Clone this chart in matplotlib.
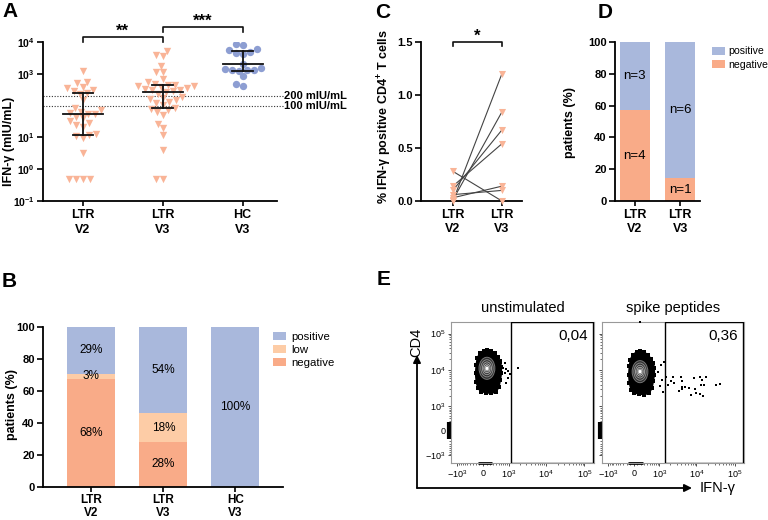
import numpy as np
import matplotlib.pyplot as plt
from matplotlib.patches import Ellipse, Rectangle, Polygon, FancyArrowPatch

plt.rcParams['font.family'] = ['Liberation Sans', 'DejaVu Sans']
plt.rcParams['mathtext.fontset'] = 'custom'
plt.rcParams['mathtext.rm'] = 'Liberation Sans'
plt.rcParams['mathtext.it'] = 'Liberation Sans:italic'
plt.rcParams['mathtext.bf'] = 'Liberation Sans:bold'

# colours
POS = '#a9b8dc'
LOW = '#fdcca6'
NEG = '#f9ab88'
TRI = '#f9b497'
HCC = '#8d9ed2'

# ---------------- data ----------------
# A: IFN-gamma release (mIU/mL)
groups = ['LTR\nV2', 'LTR\nV3', 'HC\nV3']
ifn_ltr_v2 = [1260, 560, 500, 380, 350, 320, 290, 250, 230, 150,
              85, 75, 65, 60, 56, 55, 45, 40, 32, 28, 25, 22,
              13, 12, 11, 9.5, 3.2, 0.5, 0.5, 0.5, 0.5]
ifn_ltr_v3 = [5400, 3900, 3600, 1780, 1170, 1120, 680, 560, 480, 460, 440,
              420, 400, 380, 360, 340, 320, 305, 290, 275, 240,
              190, 175, 160, 145, 130, 120, 105,
              85, 80, 72, 65, 50, 27, 19.5, 12, 4, 0.5, 0.5]
ifn_hc_v3 = [8500, 8100, 6000, 5500, 5000, 4600, 4300, 2000, 1500, 1400,
             1350, 1320, 1300, 1250, 850, 470, 400]
a_median = [56, 275, 2000]
a_q1 = [12, 82, 1230]
a_q3 = [255, 440, 5200]
cutoffs = [200, 100]

# B: responders (% of patients)
b_negative = [67.7, 28.2, 0]
b_low = [3.2, 17.9, 0]
b_positive = [29.0, 53.8, 100]

# C: % IFN-gamma positive CD4+ T cells, paired
c_groups = ['LTR\nV2', 'LTR\nV3']
c_v2 = [0.00, 0.01, 0.10, 0.14, 0.28, 0.03, 0.06]
c_v3 = [1.20, 0.84, 0.67, 0.54, 0.00, 0.14, 0.10]

# D: number of patients
d_negative_n = [4, 1]
d_positive_n = [3, 6]

# E: flow cytometry events (IFN-gamma, CD4)
unstim_ifn = [600, 765, 680, 860, 950, 765, 1070, 950, 860, 1840]
unstim_cd4 = [19000, 15400, 11800, 10800, 9400, 8200, 7900, 6040, 4600, 11800]
spike_ifn = [1600, 2410, 2110, 2570, 1810, 3870, 4110, 4930, 4240, 6380, 8630,
             12150, 14150, 17950, 12900, 15750, 7080, 9570, 12150, 14850, 9170,
             4110, 3470, 31800, 40400, 1300, 1050, 1240, 900, 1120, 1380, 765, 630, 175]
spike_cd4 = [6430, 6700, 5110, 4420, 3980, 6430, 5220, 3580, 3580, 3240, 6040,
             6430, 5450, 6430, 3980, 3980, 2110, 2460, 2250, 2030, 3090,
             3020, 2780, 3980, 4160, 2610, 3740, 5450, 9180, 13900, 17100, 12000, 7020, 200000]
# outline of the dense CD4+ population (asinh channel units, unstimulated sample)
blob_x = [0.24, 0.50, 0.70, 0.90, 1.04, 1.10, 1.10, 1.04, 0.96, 0.80,
          0.50, 0.20, -0.10, -0.30, -0.40, -0.44, -0.40, -0.34, -0.20, 0.04]
blob_y = [5.06, 5.00, 4.85, 4.60, 4.33, 4.02, 3.60, 3.19, 2.77, 2.46,
          2.35, 2.40, 2.46, 2.67, 3.08, 3.60, 4.12, 4.54, 4.85, 5.02]
gate_ifn_start = [1160, 1500]
freq_labels = ['0,04', '0,36']
titles_e = ['unstimulated', 'spike peptides']

# ---------------- layout ----------------
W, H = 768, 520
fig = plt.figure(figsize=(7.68, 5.2), dpi=100)


def box(l, t, r, b):
    return [l / W, 1 - b / H, (r - l) / W, (b - t) / H]


def style(ax, labelsize=8):
    for s in ['top', 'right']:
        ax.spines[s].set_visible(False)
    for s in ['left', 'bottom']:
        ax.spines[s].set_linewidth(1.3)
    ax.tick_params(direction='out', length=4, width=1.2, labelsize=labelsize, pad=2)
    ax.tick_params(axis='x', length=3.5, pad=2)
    for lab in ax.get_xticklabels() + ax.get_yticklabels():
        lab.set_fontweight('bold')


def swarm(vals, px_x, px_dec, d):
    ys = np.log10(vals) * px_dec
    cand = sorted(range(-40, 41), key=lambda k: (abs(k), k))
    placed = []
    offs = np.zeros(len(vals))
    for i in np.argsort(ys):
        for c in cand:
            if all((c - px) ** 2 + (ys[i] - py) ** 2 >= d * d for px, py in placed):
                break
        placed.append((c, ys[i]))
        offs[i] = c / px_x
    return offs


# ---- panel A
axA = fig.add_axes(box(43, 42, 277, 201))
axA.set_yscale('log')
axA.set_ylim(0.1, 1e4)
axA.set_xlim(-0.5, 2.43)
for i, (vals, mk, col) in enumerate([(ifn_ltr_v2, 'v', TRI), (ifn_ltr_v3, 'v', TRI), (ifn_hc_v3, 'o', HCC)]):
    xs = i + swarm(vals, 80, 31.8, 6.6)
    axA.scatter(xs, vals, marker=mk, s=28, color=col, lw=0, zorder=3)
    axA.plot([i, i], [a_q1[i], a_q3[i]], color='#111', lw=1.3, zorder=4)
    axA.plot([i - 0.25, i + 0.25], [a_median[i]] * 2, color='#111', lw=1.3, zorder=4)
    for q in (a_q1[i], a_q3[i]):
        axA.plot([i - 0.13, i + 0.13], [q, q], color='#111', lw=1.3, zorder=4)
for c in cutoffs:
    axA.plot([-0.5, 2.5], [c, c], ls=(0, (1, 1.5)), color='#333', lw=0.8, clip_on=False)
    axA.text(2.52, c, f'{c} mIU/mL', fontsize=8, fontweight='bold', va='center', ha='left')
axA.set_yticks([1e-1, 1e0, 1e1, 1e3, 1e4])
axA.set_yticklabels([r'$\mathbf{10^{-1}}$', r'$\mathbf{10^{0}}$', r'$\mathbf{10^{1}}$',
                     r'$\mathbf{10^{3}}$', r'$\mathbf{10^{4}}$'])
axA.yaxis.set_minor_locator(plt.NullLocator())
axA.set_xticks(range(3))
axA.set_xticklabels(groups, linespacing=1.35)
style(axA, 9)
for lab in axA.get_yticklabels():
    lab.set_fontsize(7.5)
tr = axA.get_xaxis_transform()
for (x0, x1, yb, txt) in [(0, 1, 1.033, '**'), (1, 2, 1.096, '***')]:
    axA.plot([x0, x0, x1, x1], [yb - 0.03, yb, yb, yb - 0.03], color='#111', lw=1.2,
             transform=tr, clip_on=False)
    axA.text((x0 + x1) / 2, yb + 0.005, txt, transform=tr, ha='center', va='baseline',
             fontsize=12, fontweight='bold')
fig.text(9 / W, 1 - 141 / H, 'IFN-γ (mIU/mL)', rotation=90, ha='center', va='center',
         fontsize=9, fontweight='bold')

# ---- panel B
axB = fig.add_axes(box(43, 327, 283, 487))
xb = np.arange(3)
axB.bar(xb, b_negative, 0.667, color=NEG, label='negative')
axB.bar(xb, b_low, 0.667, bottom=b_negative, color=LOW, label='low')
axB.bar(xb, b_positive, 0.667, bottom=np.add(b_negative, b_low), color=POS, label='positive')
bottoms = np.zeros(3)
for seg in (b_negative, b_low, b_positive):
    for i, v in enumerate(seg):
        if v > 0:
            axB.text(i, bottoms[i] + v / 2, f'{round(v)}%', ha='center', va='center', fontsize=8.5)
    bottoms = bottoms + np.array(seg)
axB.set_xlim(-0.67, 2.66)
axB.set_ylim(0, 100)
axB.set_yticks(range(0, 101, 20))
axB.set_xticks(xb)
axB.set_xticklabels(groups, linespacing=1.1)
style(axB, 8)
axB.tick_params(axis='x', length=3.5, pad=1.5)
for lab in axB.get_xticklabels():
    lab.set_fontsize(8.5)
h, l = axB.get_legend_handles_labels()
axB.legend(h[::-1], l[::-1], loc='upper left', bbox_to_anchor=(0.94, 1.0), frameon=False,
           fontsize=8.2, handlelength=1.1, handleheight=0.7, handletextpad=0.5,
           labelspacing=0.3, borderaxespad=0)
fig.text(12 / W, 1 - 405 / H, 'patients (%)', rotation=90, ha='center', va='center',
         fontsize=9, fontweight='bold')

# ---- panel C
axC = fig.add_axes(box(421, 42, 522, 201))
for a, b in zip(c_v2, c_v3):
    axC.plot([0, 1], [a, b], color='#444', lw=0.8, zorder=2)
axC.scatter(np.zeros(len(c_v2)), c_v2, marker='v', s=26, color=TRI, lw=0, zorder=3, clip_on=False)
axC.scatter(np.ones(len(c_v3)), c_v3, marker='v', s=26, color=TRI, lw=0, zorder=3, clip_on=False)
axC.set_xlim(-0.65, 1.41)
axC.set_ylim(0, 1.5)
axC.set_yticks([0, 0.5, 1.0, 1.5])
axC.set_yticklabels(['0.0', '0.5', '1.0', '1.5'])
axC.set_xticks([0, 1])
axC.set_xticklabels(c_groups, linespacing=1.3)
style(axC, 8)
for lab in axC.get_xticklabels():
    lab.set_fontsize(9)
trc = axC.get_xaxis_transform()
axC.plot([0, 0, 1, 1], [0.975, 1.0, 1.0, 0.975], color='#111', lw=1.2, transform=trc, clip_on=False)
axC.text(0.5, 1.005, '*', transform=trc, ha='center', va='baseline', fontsize=12, fontweight='bold')
fig.text(385 / W, 1 - 117 / H, '% IFN-γ positive CD4$^{\\mathbf{+}}$ T cells', rotation=90,
         ha='center', va='center', fontsize=9, fontweight='bold')

# ---- panel D
axD = fig.add_axes(box(615, 42, 700, 201))
tot = np.add(d_negative_n, d_positive_n)
d_neg = 100 * np.array(d_negative_n) / tot
d_pos = 100 * np.array(d_positive_n) / tot
xd = np.arange(2)
axD.bar(xd, d_neg, 0.667, color=NEG, label='negative')
axD.bar(xd, d_pos, 0.667, bottom=d_neg, color=POS, label='positive')
for i in range(2):
    axD.text(i, d_neg[i] / 2, f'n={d_negative_n[i]}', ha='center', va='center', fontsize=9.5)
    axD.text(i, d_neg[i] + d_pos[i] / 2, f'n={d_positive_n[i]}', ha='center', va='center', fontsize=9.5)
axD.set_xlim(-0.44, 1.44)
axD.set_ylim(0, 100)
axD.set_yticks(range(0, 101, 20))
axD.set_xticks(xd)
axD.set_xticklabels(c_groups, linespacing=1.3)
style(axD, 8)
for lab in axD.get_xticklabels():
    lab.set_fontsize(9)
h, l = axD.get_legend_handles_labels()
axD.legend(h[::-1], l[::-1], loc='upper left', bbox_to_anchor=(1.09, 1.0), frameon=False,
           fontsize=7.6, handlelength=1.2, handleheight=0.8, handletextpad=0.4,
           labelspacing=0.35, borderaxespad=0)
fig.text(570 / W, 1 - 122 / H, 'patients (%)', rotation=90, ha='center', va='center',
         fontsize=9, fontweight='bold')


# ---- panel E
def asn(v):
    return np.arcsinh(np.asarray(v, dtype=float) / 450.0)


major = [-1e3, 0, 1e3, 1e4, 1e5]
major_lab = [r'$-10^3$', '0', r'$10^3$', r'$10^4$', r'$10^5$']
minor = [v for v in range(-900, 1000, 100) if v != 0] + \
        [k * 10 ** e for e in (3, 4) for k in range(2, 10)]
xlim_e = (asn(-1500), asn(1.77e5))
ylim_e = (asn(-1650), asn(2.06e5))
boxes_e = [box(451, 322, 594, 463), box(602, 322, 744, 463)]
events = [(unstim_ifn, unstim_cd4), (spike_ifn, spike_cd4)]
blob_shift = [(0.0, 0.0), (0.14, -0.08)]
ring_center = [(0.24, 3.92), (0.38, 3.71)]
for k in range(2):
    ax = fig.add_axes(boxes_e[k])
    ax.set_xlim(xlim_e)
    ax.set_ylim(ylim_e)
    for s in ax.spines.values():
        s.set_color('#999')
        s.set_linewidth(0.8)
    bx = np.array(blob_x) + blob_shift[k][0]
    by = np.array(blob_y) + blob_shift[k][1]
    ax.add_patch(Polygon(np.column_stack([bx, by]), closed=True, facecolor='black',
                         edgecolor='black', lw=1.2, zorder=2))
    ax.scatter(bx, by, marker='s', s=5, color='black', lw=0, zorder=2)
    rx, ry = ring_center[k]
    ax.add_patch(Ellipse((rx, ry), 0.95, 1.38, facecolor='#2e2e2e', edgecolor='#777', lw=0.7, zorder=3))
    for f, col in zip([0.78, 0.58, 0.40, 0.24, 0.10],
                      ['#8a8a8a', '#9c9c9c', '#b0b0b0', '#c8c8c8', '#f2f2f2']):
        ax.add_patch(Ellipse((rx, ry), 0.95 * f, 1.38 * f, facecolor='none', edgecolor=col,
                             lw=0.7, zorder=3))
    ax.add_patch(Ellipse((rx, ry), 0.08, 0.12, color='white', zorder=3))
    ex, ey = events[k]
    ax.scatter(asn(ex), asn(ey), marker='s', s=3.5, color='black', lw=0, zorder=4, clip_on=False)
    # pile-up of events at the axis edges
    ax.plot([xlim_e[0] - 0.12] * 2, [asn(-250), asn(250)], color='black', lw=3,
            solid_capstyle='butt', clip_on=False)
    ax.plot([asn(-150), asn(250)], [ylim_e[0]] * 2, color='black', lw=2,
            solid_capstyle='butt', clip_on=False)
    g0 = asn(gate_ifn_start[k])
    ax.add_patch(Rectangle((g0, asn(-1600)), asn(1.7e5) - g0, asn(2.0e5) - asn(-1600),
                           fill=False, edgecolor='black', lw=1.0, zorder=5))
    ax.text(0.955, 0.95, freq_labels[k], transform=ax.transAxes, ha='right', va='top', fontsize=11)
    ax.set_xticks(asn(major))
    ax.set_xticklabels(major_lab)
    ax.set_xticks(asn(minor), minor=True)
    ax.set_yticks(asn(major))
    ax.set_yticks(asn(minor), minor=True)
    if k == 0:
        ax.set_yticklabels(major_lab)
    else:
        ax.set_yticklabels([])
    ax.tick_params(which='major', length=2.5, width=0.6, labelsize=6.5, pad=1.5, color='#333')
    ax.tick_params(which='minor', length=1.4, width=0.5, color='#333')
    ax.set_title(titles_e[k], fontsize=10.5, pad=7)

fig.add_artist(FancyArrowPatch((417 / W, 1 - 488 / H), (417 / W, 1 - 355 / H), transform=fig.transFigure,
                               arrowstyle='-|>', mutation_scale=11, lw=1.3, color='black',
                               shrinkA=0, shrinkB=0))
fig.add_artist(FancyArrowPatch((417 / W, 1 - 488 / H), (692 / W, 1 - 488 / H), transform=fig.transFigure,
                               arrowstyle='-|>', mutation_scale=11, lw=1.3, color='black',
                               shrinkA=0, shrinkB=0))
fig.text(416 / W, 1 - 342 / H, 'CD4', rotation=90, ha='center', va='center', fontsize=10.5)
fig.text(718 / W, 1 - 488 / H, 'IFN-γ', ha='center', va='center', fontsize=10.5)

# panel letters
for (px, py, letter) in [(2, 2, 'A'), (2, 272, 'B'), (375, 3, 'C'), (598, 3, 'D'), (377, 270, 'E')]:
    fig.text(px / W, 1 - py / H, letter, ha='left', va='top', fontsize=15, fontweight='bold')

fig.savefig('out.png', dpi=100)
